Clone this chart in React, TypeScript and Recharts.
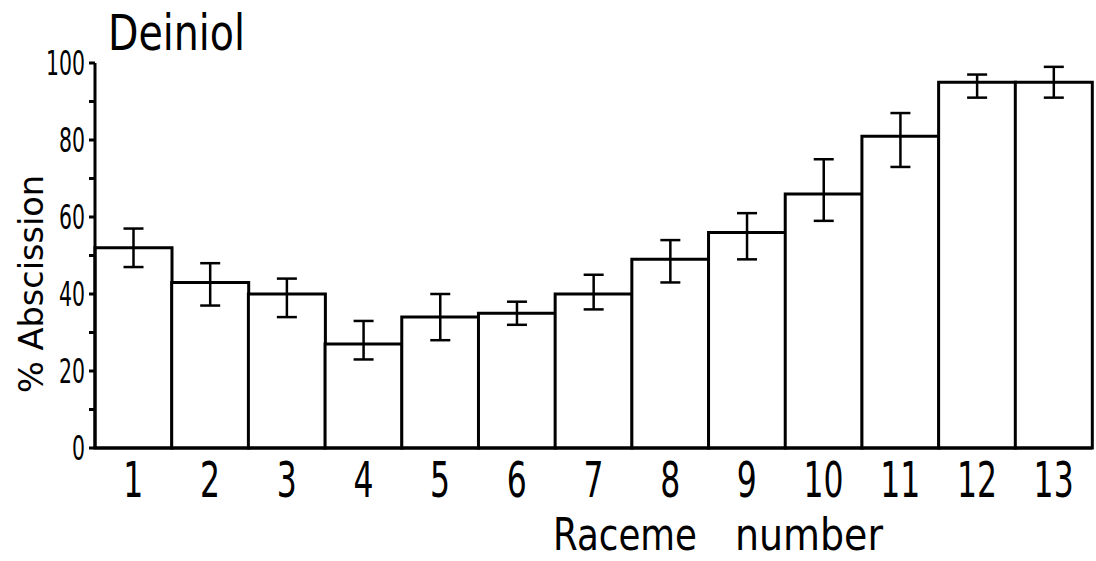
import { BarChart, Bar, XAxis, YAxis, ErrorBar } from "recharts";

const raceme = ["1", "2", "3", "4", "5", "6", "7", "8", "9", "10", "11", "12", "13"];
const abscission = [52, 43, 40, 27, 34, 35, 40, 49, 56, 66, 81, 95, 95];
const upper = [57, 48, 44, 33, 40, 38, 45, 54, 61, 75, 87, 97, 99];
const lower = [47, 37, 34, 23, 28, 32, 36, 43, 49, 59, 73, 91, 91];
const yTicks = [0, 10, 20, 30, 40, 50, 60, 70, 80, 90, 100];

const data = raceme.map((r, i) => ({
  raceme: r,
  value: abscission[i],
  err: [abscission[i] - lower[i], upper[i] - abscission[i]],
}));

const FONT = "'DejaVu Sans', sans-serif";

function XTick(props: any) {
  const { x, y, payload } = props;
  return (
    <g transform={`translate(${x},${y + 41}) scale(0.63,1)`}>
      <text textAnchor="middle" fontSize={50} fontFamily={FONT} fill="#000">
        {payload.value}
      </text>
    </g>
  );
}

function YTick(props: any) {
  const { x, y, payload } = props;
  if (payload.value % 20 !== 0) return <g />;
  return (
    <g transform={`translate(${x - 2},${y + 12}) scale(0.62,1)`}>
      <text textAnchor="end" fontSize={33} fontFamily={FONT} fill="#000">
        {payload.value}
      </text>
    </g>
  );
}

export default function App() {
  return (
    <div style={{ position: "absolute", left: 0, top: 0, width: 1096, height: 561, background: "#fff" }}>
      <BarChart
        width={1096}
        height={561}
        data={data}
        margin={{ top: 63, right: 4, left: 15, bottom: 53 }}
        barCategoryGap={0}
      >
        <XAxis
          dataKey="raceme"
          height={60}
          tickLine={false}
          axisLine={{ stroke: "#000", strokeWidth: 3 }}
          tick={<XTick />}
          interval={0}
        />
        <YAxis
          width={80}
          domain={[0, 100]}
          ticks={yTicks}
          interval={0}
          tickSize={6}
          tickLine={{ stroke: "#000", strokeWidth: 3 }}
          axisLine={{ stroke: "#000", strokeWidth: 3 }}
          tick={<YTick />}
        />
        <Bar dataKey="value" fill="#fff" stroke="#000" strokeWidth={3} isAnimationActive={false}>
          <ErrorBar dataKey="err" direction="y" width={10} stroke="#000" strokeWidth={2.5} />
        </Bar>
      </BarChart>
      <svg
        width={1096}
        height={561}
        style={{ position: "absolute", left: 0, top: 0, pointerEvents: "none" }}
      >
        <text x={108} y={50} fontSize={50} fontFamily={FONT} textLength={137} lengthAdjust="spacingAndGlyphs">
          Deiniol
        </text>
        <text
          transform="translate(43,284) rotate(-90)"
          textAnchor="middle"
          fontSize={34}
          fontFamily={FONT}
          textLength={218}
          lengthAdjust="spacingAndGlyphs"
        >
          % Abscission
        </text>
        <text x={553} y={550} fontSize={45} fontFamily={FONT} textLength={144} lengthAdjust="spacingAndGlyphs">
          Raceme
        </text>
        <text x={735} y={550} fontSize={45} fontFamily={FONT} textLength={148} lengthAdjust="spacingAndGlyphs">
          number
        </text>
      </svg>
    </div>
  );
}
